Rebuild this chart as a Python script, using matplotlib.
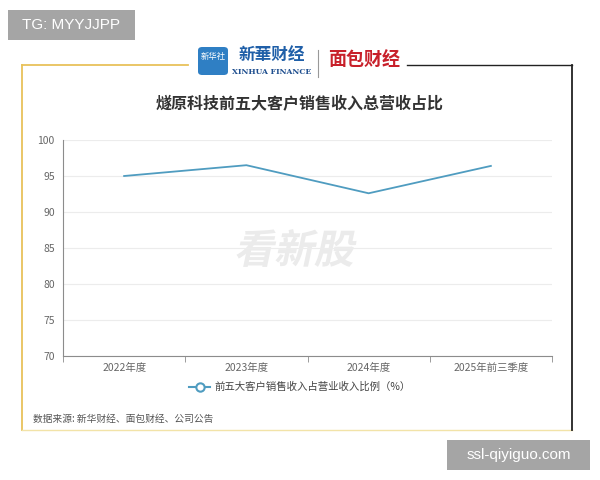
import matplotlib
matplotlib.use("Agg")
import matplotlib.pyplot as plt
from matplotlib.lines import Line2D
from matplotlib.patches import Rectangle, FancyBboxPatch, PathPatch
from matplotlib.textpath import TextPath
from matplotlib.font_manager import FontProperties
from matplotlib.transforms import Affine2D, IdentityTransform

plt.rcParams["font.family"] = ["Noto Sans CJK SC", "DejaVu Sans"]

periods = ["2022年度", "2023年度", "2024年度", "2025年前三季度"]
top5_share = [95.0, 96.5, 92.6, 96.4]
series_name = "前五大客户销售收入占营业收入比例（%）"
title = "燧原科技前五大客户销售收入总营收占比"
source = "数据来源: 新华财经、面包财经、公司公告"

line_color = "#4f9cc0"
grid_color = "#ececec"
axis_color = "#8c8c8c"
text_color = "#666666"

W, H = 600, 480
fig = plt.figure(figsize=(6, 4.8), dpi=100)
fig.patch.set_facecolor("white")


def px(x, y):
    # pixel position (from top-left) -> figure fraction
    return x / W, 1 - y / H


# frame: gold on the left/bottom, black on the right/top
gold = "#e8c25a"
for (x0, y0), (x1, y1), c, lw in [
    ((22, 65), (188, 65), gold, 1.3),
    ((22, 65), (22, 430), gold, 1.3),
    ((22, 430), (572, 430), "#f2e3a8", 1.0),
    ((407, 65), (572, 65), "#222222", 1.0),
    ((572, 65), (572, 430), "#222222", 1.3),
]:
    a, b = px(x0, y0)
    c2, d = px(x1, y1)
    fig.add_artist(Line2D([a, c2], [b, d], color=c, lw=lw, transform=fig.transFigure))

# header logos
bx, by = px(198, 75)
fig.add_artist(FancyBboxPatch((bx, by), 30 / W, 28 / H,
                              boxstyle="round,pad=0,rounding_size=0.007",
                              fc="#2f7fc4", ec="none", transform=fig.transFigure))
fig.text(*px(213, 56), "新华社", color="white", fontsize=6, ha="center", va="center")
fig.text(*px(272, 55), "新華财经", color="#1f5fa8", fontsize=12, ha="center", va="center",
         fontweight="bold")
fig.text(*px(272, 71.5), "XINHUA FINANCE", color="#1f4f8f", fontsize=5.5, ha="center",
         va="center", family=["DejaVu Serif"], fontweight="bold")
fig.add_artist(Line2D([px(318, 0)[0]] * 2, [px(0, 50)[1], px(0, 77)[1]],
                      color="#999999", lw=0.8, transform=fig.transFigure))
fig.text(*px(364, 60), "面包财经", color="#c8202a", fontsize=13, ha="center", va="center",
         fontweight="bold")

fig.text(*px(300, 104), title, color="#333333", fontsize=11.5, fontweight="bold",
         ha="center", va="center")

# slanted watermark in the middle of the plot
wm = TextPath((0, 0), "看新股", size=40,
              prop=FontProperties(family="Noto Sans CJK SC", weight="heavy"))
ext = wm.get_extents()
cx, cy = 297, H - 248
wm_tr = (Affine2D().translate(-(ext.x0 + ext.x1) / 2, -(ext.y0 + ext.y1) / 2)
         .skew_deg(12, 0).translate(cx, cy))
fig.add_artist(PathPatch(wm, fc="#ebebeb", ec="none", zorder=0,
                         transform=wm_tr + IdentityTransform()))

ax = fig.add_axes([63 / W, 1 - 356 / H, 489 / W, 216 / H])
ax.patch.set_alpha(0)
x = list(range(len(periods)))
ax.plot(x, top5_share, color=line_color, lw=1.3, zorder=3)
ax.set_xlim(-0.5, len(periods) - 0.5)
ax.set_ylim(70, 100)
ax.set_yticks(range(70, 101, 5))
ax.set_xticks(x)
ax.set_xticklabels(periods)
ax.set_xticks([i - 0.5 for i in range(len(periods) + 1)], minor=True)
ax.tick_params(axis="x", which="major", length=0, pad=5, labelsize=7.5, labelcolor=text_color)
ax.tick_params(axis="x", which="minor", length=4, color=axis_color, direction="out")
ax.tick_params(axis="y", length=0, pad=6, labelsize=7.5, labelcolor=text_color)
ax.grid(axis="y", color=grid_color, lw=0.8)
ax.set_axisbelow(True)
for s in ["top", "right"]:
    ax.spines[s].set_visible(False)
ax.spines["left"].set_color(axis_color)
ax.spines["bottom"].set_color(axis_color)

handle = Line2D([], [], color=line_color, lw=1.5, marker="o", markersize=6,
                markerfacecolor="white", markeredgecolor=line_color, markeredgewidth=1.5)
fig.legend([handle], [series_name], loc="center", bbox_to_anchor=px(300, 387),
           frameon=False, fontsize=7.5, labelcolor="#444444", handlelength=2,
           handletextpad=0.4)

fig.text(*px(33, 419), source, color="#555555", fontsize=7, ha="left", va="center")

# corner tags
for (x0, y0, w, h), label in [((8, 10, 127, 30), "TG: MYYJJPP"),
                              ((447, 440, 143, 30), "ssl-qiyiguo.com")]:
    fig.add_artist(Rectangle(px(x0, y0 + h), w / W, h / H, fc="#a5a5a5", ec="none",
                             transform=fig.transFigure))
    fig.text(*px(x0 + w / 2, y0 + h / 2), label, color="white", fontsize=11,
             ha="center", va="center", family=["Liberation Sans", "DejaVu Sans"])

fig.savefig("out.png", dpi=100, facecolor="white")
